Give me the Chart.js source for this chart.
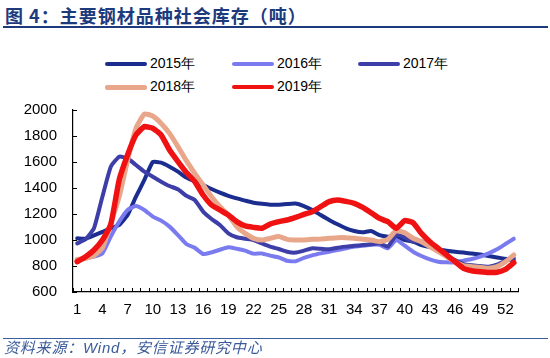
<!DOCTYPE html>
<html>
<head>
<meta charset="utf-8">
<script src="https://cdn.jsdelivr.net/npm/chart.js@4.4.0/dist/chart.umd.min.js"></script>
<style>
  body { margin: 0; width: 550px; height: 358px; background: #fff; position: relative; overflow: hidden; font-family: "Liberation Sans", Arial, sans-serif; }
  #title { position: absolute; left: 5px; top: 2px; font-weight: bold; font-size: 18px; font-family: "Noto Sans CJK SC", sans-serif; color: #1d3a7d; letter-spacing: 1px; white-space: nowrap; }
  #titleLine { position: absolute; left: 3px; width: 545px; top: 26px; height: 2px; background: #1d3a7d; }
  #srcLine { position: absolute; left: 3px; width: 545px; top: 338px; height: 1px; background: #3a5fa0; }
  #source { position: absolute; left: 4px; top: 339px; font-size: 15px; line-height: 18px; font-style: italic; color: #3a5a9a; white-space: nowrap; letter-spacing: 0.8px; font-family: "Liberation Sans", "Noto Sans CJK SC", sans-serif; }
  #legend .item { position: absolute; font-size: 14px; color: #000; white-space: nowrap; }
  #legend .swatch { position: absolute; height: 4px; width: 42px; border-radius: 2px; }
  #wrap { position: absolute; left: 0; top: 0; width: 550px; height: 358px; }
</style>
</head>
<body>
<div id="title">图 4：主要钢材品种社会库存（吨）</div>
<div id="titleLine"></div>
<div id="legend"></div>
<div id="wrap"><canvas id="stockChart" width="550" height="358"></canvas></div>
<div id="srcLine"></div>
<div id="source">资料来源：Wind，安信证券研究中心</div>
<script>
// weeks 1..53
const weeks = [];
for (let i = 1; i <= 53; i++) weeks.push(String(i));

const seriesNames = ['2015年', '2016年', '2017年', '2018年', '2019年'];

const stock2015 = [1013, 1010, 1035, 1062, 1090, 1115, 1192, 1333, 1462, 1600,
  1595, 1564, 1526, 1480, 1450, 1423, 1392, 1364, 1340, 1320,
  1303, 1287, 1278, 1272, 1272, 1277, 1280, 1261, 1231, 1192,
  1154, 1121, 1090, 1069, 1059, 1069, 1038, 1026, 1026, 1000,
  987, 960, 945, 928, 918, 910, 903, 897, 888, 877,
  866, 855, 846];

const stock2016 = [851, 859, 872, 897, 1026, 1141, 1231, 1262, 1231, 1180,
  1149, 1103, 1038, 969, 940, 892, 905, 925, 944, 933,
  918, 895, 897, 880, 867, 840, 836, 862, 882, 897,
  910, 923, 936, 949, 956, 964, 964, 936, 1000, 956,
  910, 877, 851, 833, 828, 828, 841, 854, 872, 897,
  928, 969, 1010];

const stock2017 = [974, 1005, 1090, 1333, 1564, 1641, 1628, 1577, 1526, 1487,
  1449, 1415, 1390, 1340, 1308, 1218, 1162, 1115, 1051, 1021,
  1010, 1000, 974, 949, 931, 910, 903, 918, 936, 933,
  928, 941, 949, 956, 961, 967, 974, 949, 1038, 1021,
  987, 990, 955, 915, 880, 845, 815, 805, 800, 795,
  810, 840, 860];

const stock2018 = [850, 860, 880, 940, 1128, 1333, 1615, 1859, 1969, 1954,
  1897, 1820, 1718, 1610, 1513, 1423, 1333, 1256, 1192, 1103,
  1051, 1013, 1000, 1013, 1026, 1005, 1000, 1000, 1005, 1008,
  1013, 1018, 1018, 1013, 1005, 1000, 987, 1005, 1072, 1056,
  1013, 987, 949, 910, 872, 833, 803, 795, 790, 782,
  795, 833, 885];

const stock2019 = [833, 872, 923, 1000, 1120, 1462, 1654, 1808, 1872, 1859,
  1808, 1692, 1603, 1520, 1449, 1346, 1269, 1231, 1192, 1141,
  1108, 1097, 1090, 1123, 1141, 1154, 1174, 1197, 1218, 1256,
  1295, 1308, 1297, 1282, 1251, 1210, 1167, 1141, 1090, 1149,
  1133, 1051, 987, 936, 885, 833, 782, 764, 756, 750,
  752, 774, 826];

const yTicks = [600, 800, 1000, 1200, 1400, 1600, 1800, 2000];

const seriesData = [stock2015, stock2016, stock2017, stock2018, stock2019];
const seriesColors = ['#1b2d8f', '#7b7bf0', '#3e3ea8', '#e8a68a', '#f01212'];
const seriesWidths = [4, 4, 4, 5, 5.5];

// legend, laid out like the original (3 + 2 in columns)
const legendEl = document.getElementById('legend');
const colX = [105, 232, 358];
const rowY = [64, 87];
seriesNames.forEach((name, i) => {
  const x = colX[i % 3], y = rowY[Math.floor(i / 3)];
  const sw = document.createElement('div');
  sw.className = 'swatch';
  sw.style.left = x + 'px';
  sw.style.top = (y - 2) + 'px';
  sw.style.background = seriesColors[i];
  if (i === 3) { sw.style.height = '5px'; sw.style.top = (y - 2.5) + 'px'; }
  legendEl.appendChild(sw);
  const tx = document.createElement('div');
  tx.className = 'item';
  tx.textContent = name;
  tx.style.left = (x + 45) + 'px';
  tx.style.top = (y - 9) + 'px';
  legendEl.appendChild(tx);
});

// small tick marks pointing into the plot
const innerTicks = {
  id: 'innerTicks',
  afterDraw(chart) {
    const ctx = chart.ctx;
    const ys = chart.scales.y;
    const area = chart.chartArea;
    ctx.save();
    ctx.strokeStyle = '#000';
    ctx.lineWidth = 1;
    ctx.beginPath();
    const step = (area.right - area.left) / weeks.length;
    for (let i = 0; i <= weeks.length; i++) {
      const px = Math.round(area.left + i * step) + 0.5;
      ctx.moveTo(px, area.bottom);
      ctx.lineTo(px, area.bottom - 4);
    }
    yTicks.forEach(v => {
      const py = Math.round(ys.getPixelForValue(v)) + 0.5;
      ctx.moveTo(area.left, py);
      ctx.lineTo(area.left + 4, py);
    });
    ctx.stroke();
    ctx.restore();
  }
};

const ctx = document.getElementById('stockChart').getContext('2d');

const datasets = seriesNames.map((name, i) => ({
  label: name,
  data: seriesData[i],
  borderColor: seriesColors[i],
  backgroundColor: seriesColors[i],
  borderWidth: seriesWidths[i],
  pointRadius: 0,
  tension: 0.15,
  fill: false,
  order: seriesNames.length - i,
  borderCapStyle: 'round',
  borderJoinStyle: 'round'
}));

window.stockChart = new Chart(ctx, {
  type: 'line',
  data: { labels: weeks, datasets: datasets },
  options: {
    responsive: false,
    animation: false,
    layout: { padding: { left: 0, top: 110, right: 32, bottom: 36 } },
    plugins: {
      legend: { display: false },
      tooltip: { enabled: false }
    },
    scales: {
      x: {
        offset: true,
        grid: { display: true, drawOnChartArea: false, drawTicks: false },
        border: { display: true, color: '#000', width: 1.2 },
        ticks: {
          autoSkip: false,
          maxRotation: 0,
          padding: 9,
          color: '#000',
          font: { size: 15, family: '"Liberation Sans", Arial, sans-serif' },
          callback: function (val, idx) { return idx % 3 === 0 ? weeks[idx] : ''; }
        },
        afterFit: function (scale) { scale.height = 30; }
      },
      y: {
        min: 600,
        max: 2000,
        grid: { display: true, drawOnChartArea: false, drawTicks: false },
        border: { display: true, color: '#000', width: 1.2 },
        ticks: {
          stepSize: 200,
          padding: 16,
          color: '#000',
          font: { size: 15, family: '"Liberation Sans", Arial, sans-serif' },
          callback: function (val) { return String(val); }
        },
        afterFit: function (scale) { scale.width = 73; }
      }
    }
  },
  plugins: [innerTicks]
});
</script>
</body>
</html>
